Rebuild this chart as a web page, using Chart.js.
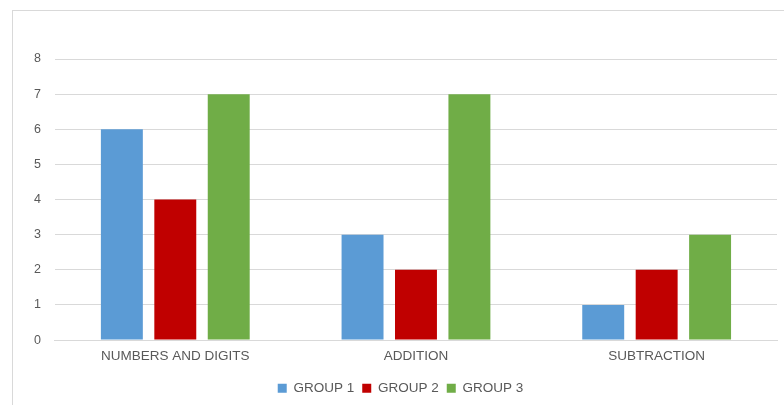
<!DOCTYPE html>
<html>
<head>
<meta charset="utf-8">
<script src="https://cdn.jsdelivr.net/npm/chart.js@4/dist/chart.umd.min.js"></script>
<style>
  html, body { margin: 0; padding: 0; background: #fff; overflow: hidden; }
  #wrap { position: relative; width: 784px; height: 405px; }
  #frame { position: absolute; left: 12px; top: 10px; width: 900px; height: 600px; border: 1px solid #d9d9d9; box-sizing: border-box; }
  #c { position: absolute; left: 0; top: 0; }
</style>
</head>
<body>
<div id="wrap">
  <div id="frame"></div>
  <canvas id="c" width="784" height="405"></canvas>
</div>
<script>
const categories = ["NUMBERS AND DIGITS", "ADDITION", "SUBTRACTION"];
const seriesNames = ["GROUP 1", "GROUP 2", "GROUP 3"];
const group1 = [6, 3, 1];
const group2 = [4, 2, 2];
const group3 = [7, 7, 3];
const seriesColors = ["#5B9BD5", "#C00000", "#70AD47"];

const fontFamily = "'Liberation Sans', Arial, sans-serif";
const textColor = "#595959";

// Nudge the legend slightly to centre it under the frame
const legendShift = {
  id: "legendShift",
  afterLayout(chart) {
    const lg = chart.legend;
    if (lg) { lg.left += 2; lg.right += 2; }
  }
};

new Chart(document.getElementById("c"), {
  type: "bar",
  data: {
    labels: categories,
    datasets: [group1, group2, group3].map((vals, i) => ({
      label: seriesNames[i],
      data: vals,
      backgroundColor: seriesColors[i],
      borderWidth: 0,
      categoryPercentage: 0.666,
      barPercentage: 0.785
    }))
  },
  options: {
    responsive: false,
    animation: false,
    layout: { padding: { top: 59, right: 7, left: 20, bottom: 0 } },
    plugins: {
      tooltip: { enabled: false },
      legend: {
        position: "bottom",
        labels: {
          boxWidth: 9,
          boxHeight: 9,
          padding: 8,
          color: textColor,
          font: { family: fontFamily, size: 13.5 }
        }
      }
    },
    scales: {
      x: {
        grid: { display: false, drawTicks: false },
        border: { color: "#d9d9d9" },
        ticks: { color: textColor, padding: 12, font: { family: fontFamily, size: 13.5, lineHeight: 0.7 } }
      },
      y: {
        min: 0,
        max: 8,
        ticks: { stepSize: 1, color: textColor, padding: 14, font: { family: fontFamily, size: 12.5 } },
        grid: { color: "#d9d9d9", drawTicks: false },
        border: { display: false }
      }
    }
  },
  plugins: [legendShift]
});
</script>
</body>
</html>
